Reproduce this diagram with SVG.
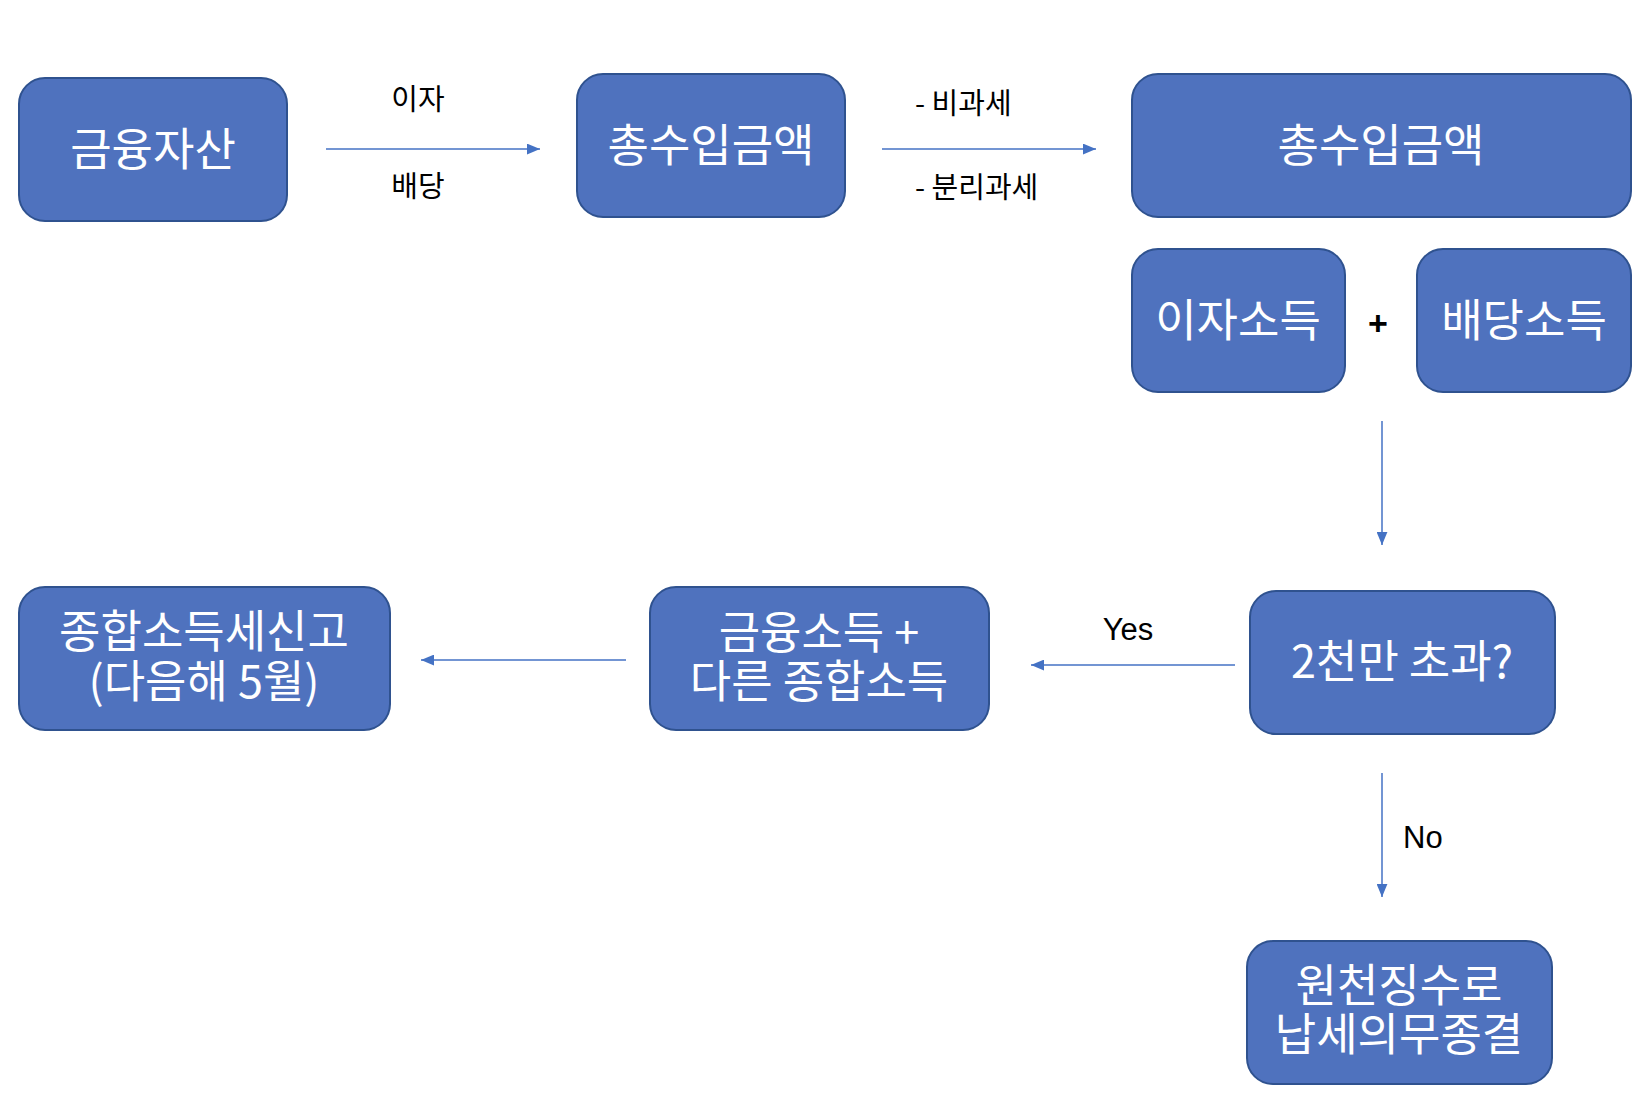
<svg xmlns="http://www.w3.org/2000/svg" width="1650" height="1110" viewBox="0 0 1650 1110">
<defs>
<style>
.box{fill:#4F72BE;stroke:#2F528F;stroke-width:2}
.bt{font-family:"Noto Sans CJK KR","Noto Sans",sans-serif;font-size:45px;fill:#ffffff;text-anchor:middle}
.lbl{font-family:"Noto Sans CJK KR","Noto Sans",sans-serif;font-size:29px;fill:#000000}
.en{font-family:"Liberation Sans","Noto Sans",sans-serif;font-size:31px;fill:#000000}
.con{stroke:#4472C4;stroke-width:1.5;fill:none}
</style>
<marker id="ah" viewBox="0 0 12 10" refX="12" refY="5" markerWidth="13" markerHeight="11" markerUnits="userSpaceOnUse" orient="auto">
<path d="M0,0 L12,5 L0,10 Z" fill="#4472C4"/>
</marker>
</defs>
<rect width="1650" height="1110" fill="#ffffff"/>
<g id="connectors">
<line class="con" x1="326" y1="149" x2="540" y2="149" marker-end="url(#ah)"/>
<line class="con" x1="882" y1="149" x2="1096" y2="149" marker-end="url(#ah)"/>
<line class="con" x1="1382" y1="421" x2="1382" y2="545" marker-end="url(#ah)"/>
<line class="con" x1="1235" y1="665" x2="1031" y2="665" marker-end="url(#ah)"/>
<line class="con" x1="626" y1="660" x2="421" y2="660" marker-end="url(#ah)"/>
<line class="con" x1="1382" y1="773" x2="1382" y2="897" marker-end="url(#ah)"/>
<text class="lbl" x="418" y="110" text-anchor="middle">이자</text>
<text class="lbl" x="418" y="197" text-anchor="middle">배당</text>
<text class="lbl" x="915" y="114">- 비과세</text>
<text class="lbl" x="915" y="198">- 분리과세</text>
<text class="en" x="1128" y="640" text-anchor="middle">Yes</text>
<text class="en" x="1403" y="848">No</text>
</g>
<g id="n1"><rect class="box" x="19" y="78" width="268" height="143" rx="26"/><text class="bt" x="153" y="166">금융자산</text></g>
<g id="n2"><rect class="box" x="577" y="74" width="268" height="143" rx="26"/><text class="bt" x="711" y="162">총수입금액</text></g>
<g id="n3"><rect class="box" x="1132" y="74" width="499" height="143" rx="26"/><text class="bt" x="1381" y="162">총수입금액</text></g>
<g id="n4"><rect class="box" x="1132" y="249" width="213" height="143" rx="26"/><text class="bt" x="1238" y="337">이자소득</text></g>
<g id="plus"><text x="1378" y="335" font-family="Liberation Sans, sans-serif" font-size="34" font-weight="bold" fill="#000000" text-anchor="middle">+</text></g>
<g id="n5"><rect class="box" x="1417" y="249" width="214" height="143" rx="26"/><text class="bt" x="1524" y="337">배당소득</text></g>
<g id="n6"><rect class="box" x="19" y="587" width="371" height="143" rx="26"/><text class="bt" x="204" y="648">종합소득세신고</text><text class="bt" x="204" y="698">(다음해 5월)</text></g>
<g id="n7"><rect class="box" x="650" y="587" width="339" height="143" rx="26"/><text class="bt" x="819" y="649">금융소득 +</text><text class="bt" x="819" y="698">다른 종합소득</text></g>
<g id="n8"><rect class="box" x="1250" y="591" width="305" height="143" rx="26"/><text class="bt" x="1402" y="678">2천만 초과?</text></g>
<g id="n9"><rect class="box" x="1247" y="941" width="305" height="143" rx="26"/><text class="bt" x="1399" y="1002">원천징수로</text><text class="bt" x="1399" y="1051">납세의무종결</text></g>
</svg>
